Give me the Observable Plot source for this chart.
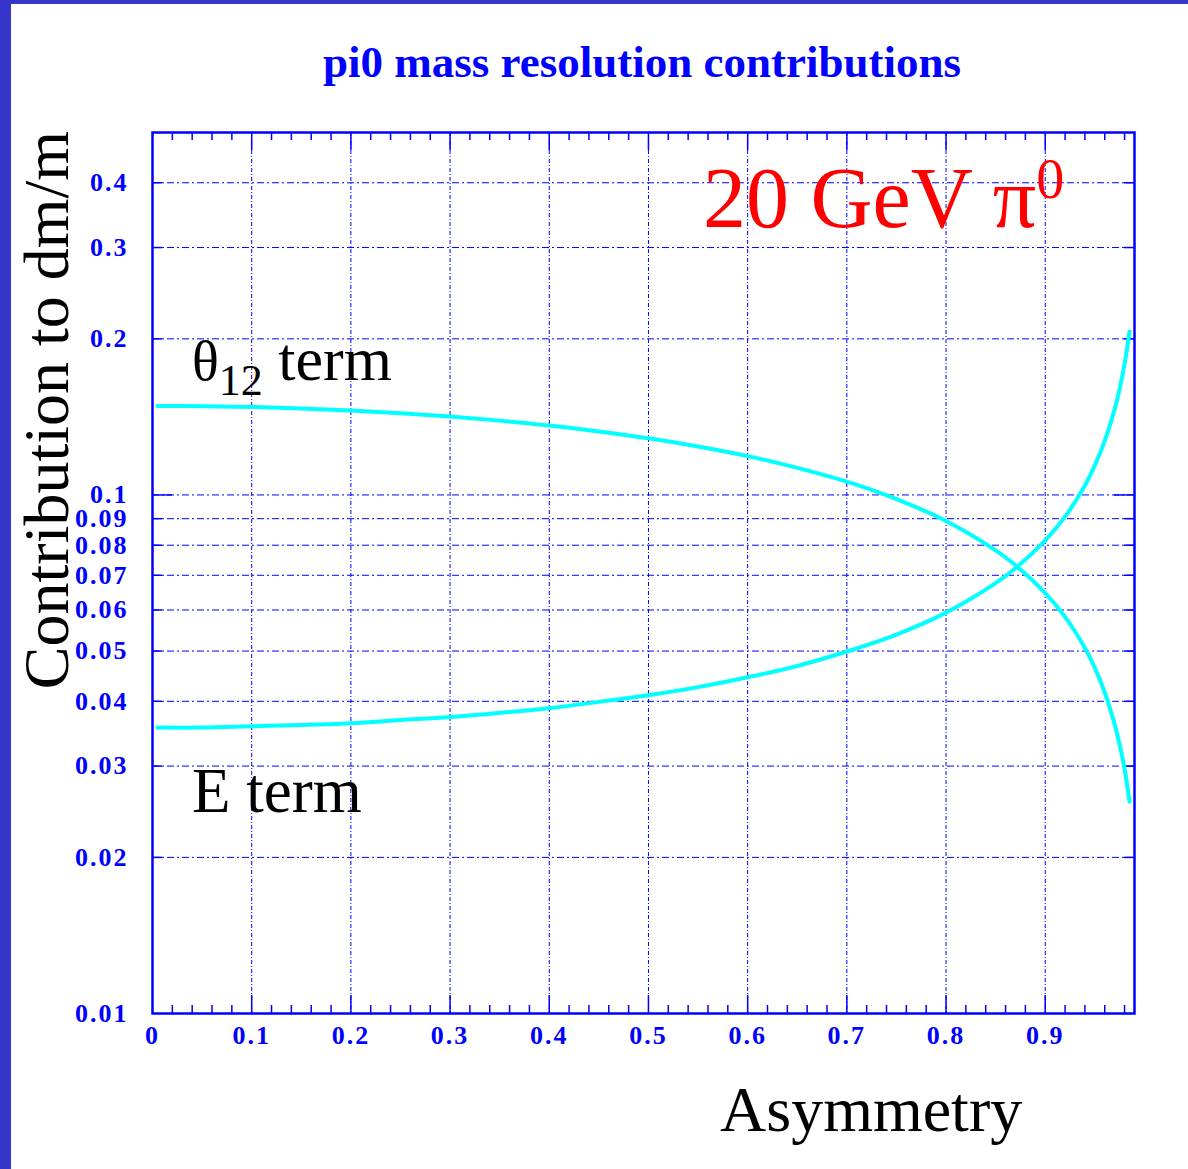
<!DOCTYPE html>
<html><head><meta charset="utf-8">
<script src="https://cdn.jsdelivr.net/npm/d3@7"></script>
<script src="https://cdn.jsdelivr.net/npm/@observablehq/plot@0.6"></script>
<style>
body{margin:0;background:#fff;}
#page{position:relative;width:1188px;height:1169px;overflow:hidden;background:#fff;}
#barL{position:absolute;left:0;top:0;width:11px;height:1169px;background:#3636cc;}
#barT{position:absolute;left:0;top:0;width:1188px;height:4px;background:#3636cc;}
#chart{position:absolute;left:0;top:0;}
#chart svg text{font-family:"Liberation Serif","DejaVu Serif",serif;}
#chart g[aria-label="x-axis tick label"] text,#chart g[aria-label="y-axis tick label"] text{font-weight:bold;letter-spacing:2px;}
</style>
</head><body>
<div id="page"><div id="barL"></div><div id="barT"></div><div id="chart"></div></div>
<script>
// ---- data ----
const asymmetry = [0.005,0.05,0.1,0.15,0.2,0.25,0.3,0.35,0.4,0.45,0.5,0.55,0.6,0.65,0.7,0.75,0.8,0.85,0.87,0.9,0.92,0.94,0.95,0.96,0.97,0.975,0.98,0.985];
const thetaTerm = [0.1485,0.1483,0.1478,0.1468,0.1455,0.1438,0.1417,0.1391,0.1361,0.1326,0.1286,0.1240,0.1188,0.1128,0.1061,0.0982,0.0891,0.0782,0.0732,0.0647,0.0582,0.0507,0.0464,0.0416,0.0361,0.0330,0.0296,0.0256];
const eTerm = [0.0356,0.0356,0.0358,0.0360,0.0363,0.0368,0.0373,0.0380,0.0388,0.0399,0.0411,0.0426,0.0445,0.0468,0.0499,0.0538,0.0593,0.0676,0.0722,0.0817,0.0908,0.1043,0.1140,0.1271,0.1464,0.1602,0.1789,0.2065];

const xTickLabels = [0,0.1,0.2,0.3,0.4,0.5,0.6,0.7,0.8,0.9];
const xGrid = [0.1,0.2,0.3,0.4,0.5,0.6,0.7,0.8,0.9];
const xMinorTicks = [0.02,0.04,0.06,0.08,0.12,0.14,0.16,0.18,0.22,0.24,0.26,0.28,0.32,0.34,0.36,0.38,0.42,0.44,0.46,0.48,0.52,0.54,0.56,0.58,0.62,0.64,0.66,0.68,0.72,0.74,0.76,0.78,0.82,0.84,0.86,0.88,0.92,0.94,0.96,0.98];
const yTickLabels = [0.01,0.02,0.03,0.04,0.05,0.06,0.07,0.08,0.09,0.1,0.2,0.3,0.4];
const yGrid = [0.02,0.03,0.04,0.05,0.06,0.07,0.08,0.09,0.1,0.2,0.3,0.4];
const yMajorTicks = [0.1];
const yMinorTicks = [0.02,0.03,0.04,0.05,0.06,0.07,0.08,0.09,0.2,0.3,0.4];

const title = "pi0 mass resolution contributions";
const yLabel = "Contribution to dm/m";
const xLabel = "Asymmetry";

const W = 1188, H = 1169, mL = 152, mR = 54, mT = 132, mB = 156;
const fw = W - mL - mR, fh = H - mT - mB;
const blue = "#0000ff";

const thetaData = asymmetry.map((a, i) => ({a, v: thetaTerm[i]}));
const eData = asymmetry.map((a, i) => ({a, v: eTerm[i]}));

const svg = Plot.plot({
  width: W, height: H,
  marginLeft: mL, marginRight: mR, marginTop: mT, marginBottom: mB,
  style: {background: "transparent", fontFamily: "Liberation Serif"},
  x: {domain: [0, 0.99], axis: null, label: null},
  y: {type: "log", domain: [0.01, 0.5], axis: null, label: null},
  marks: [
    Plot.ruleY(yGrid, {y: d => d, stroke: blue, strokeWidth: 1, strokeDasharray: "7,3,2,3"}),
    Plot.ruleX(xGrid, {x: d => d, stroke: blue, strokeWidth: 1, strokeDasharray: "4,2,1,2"}),
    // inward ticks, bottom & top
    Plot.ruleX(xMinorTicks, {x: d => d, stroke: blue, strokeWidth: 1.5, insetTop: fh - 8}),
    Plot.ruleX(xMinorTicks, {x: d => d, stroke: blue, strokeWidth: 1.5, insetBottom: fh - 8}),
    Plot.ruleX(xGrid, {x: d => d, stroke: blue, strokeWidth: 1.5, insetTop: fh - 18}),
    Plot.ruleX(xGrid, {x: d => d, stroke: blue, strokeWidth: 1.5, insetBottom: fh - 18}),
    // inward ticks, left & right
    Plot.ruleY(yMinorTicks, {y: d => d, stroke: blue, strokeWidth: 1.5, insetRight: fw - 10}),
    Plot.ruleY(yMinorTicks, {y: d => d, stroke: blue, strokeWidth: 1.5, insetLeft: fw - 10}),
    Plot.ruleY(yMajorTicks, {y: d => d, stroke: blue, strokeWidth: 1.5, insetRight: fw - 20}),
    Plot.ruleY(yMajorTicks, {y: d => d, stroke: blue, strokeWidth: 1.5, insetLeft: fw - 20}),
    Plot.line(thetaData, {x: "a", y: "v", stroke: "#00ffff", strokeWidth: 4, curve: "catmull-rom"}),
    Plot.line(eData, {x: "a", y: "v", stroke: "#00ffff", strokeWidth: 4, curve: "catmull-rom"}),
    Plot.frame({stroke: blue, strokeWidth: 2.5}),
    Plot.axisX(xTickLabels, {anchor: "bottom", label: null, tickSize: 0, tickPadding: 12, fontSize: 26, color: blue, fontWeight: "bold", tickFormat: d => String(d)}),
    Plot.axisY(yTickLabels, {anchor: "left", label: null, tickSize: 0, tickPadding: 24, fontSize: 26, color: blue, fontWeight: "bold", tickFormat: d => String(d)})
  ]
});
document.getElementById("chart").appendChild(svg);

const s = d3.select(svg);
const serif = '"Liberation Serif","DejaVu Serif",serif';
// title
s.append("text").attr("x", 642).attr("y", 77).attr("text-anchor", "middle")
  .attr("font-family", serif).attr("font-weight", "bold").attr("font-size", 45).attr("fill", blue).text(title);
// y label
s.append("text").attr("transform", "translate(68,410) rotate(-90)").attr("text-anchor", "middle")
  .attr("font-family", serif).attr("font-size", 64).attr("fill", "#000").text(yLabel);
// x label
s.append("text").attr("x", 720).attr("y", 1131).attr("text-anchor", "start").attr("font-family", serif).attr("font-size", 64).attr("fill", "#000").text(xLabel);
// 20 GeV pi0
const t1 = s.append("text").attr("x", 703).attr("y", 227).attr("text-anchor", "start").attr("font-family", serif).attr("font-size", 86).attr("fill", "#ff0000");
t1.append("tspan").text("20 GeV π");
t1.append("tspan").attr("font-size", 56).attr("dy", -29).text("0");
// theta12 term
const t2 = s.append("text").attr("x", 192).attr("y", 380).attr("text-anchor", "start").attr("font-family", serif).attr("font-size", 62).attr("fill", "#000");
t2.append("tspan").attr("font-size", 56).text("θ");
t2.append("tspan").attr("font-size", 44).attr("dy", 15).text("12");
t2.append("tspan").attr("dy", -15).text(" term");
// E term
s.append("text").attr("x", 192).attr("y", 812).attr("text-anchor", "start").attr("font-family", serif).attr("font-size", 63).attr("fill", "#000").text("E term");
</script>
</body></html>
